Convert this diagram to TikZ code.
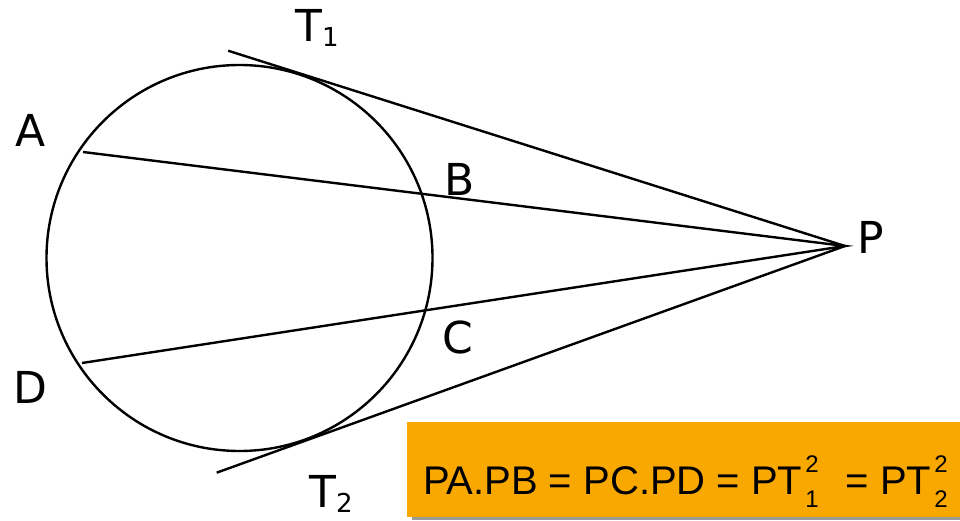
\documentclass[tikz,border=0pt]{standalone}
\usepackage{fontspec}
\setmainfont{DejaVu Sans}
\newfontfamily\eqfont{Liberation Sans}
\usetikzlibrary{calc,shadows}
\definecolor{keporange}{HTML}{F9A800}
\newcommand{\subsup}[2]{\hspace{3pt}\rlap{\raisebox{-13pt}{\fontsize{24}{24}\selectfont #1}}\raisebox{22pt}{\fontsize{24}{24}\selectfont #2}}
\tikzset{
  vonal/.style={line width=2.4pt},
  kor/.style={circle,draw,line width=2.4pt,minimum size=386pt,inner sep=0pt},
  betu/.style={anchor=base west,inner sep=0pt,font=\fontsize{44}{44}\selectfont},
  keplet/.style={fill=keporange,minimum width=553pt,minimum height=95pt,inner xsep=16pt,inner ysep=0pt,
                 text height=49pt,text depth=0pt,font=\eqfont\fontsize{40}{40}\selectfont,
                 drop shadow={shadow xshift=5pt,shadow yshift=-3pt,fill=black!40,opacity=1}},
}
\begin{document}
\begin{tikzpicture}[x=1pt,y=-1pt]
  \useasboundingbox (0,0) rectangle (960,521);
  \node[kor] (kor) at (239.5,258) {};
  \coordinate (P) at (845,246);
  \coordinate (A) at (83,152);
  \coordinate (D) at (82,363);
  \coordinate (t1) at (tangent cs:node=kor,point={(P)},solution=1);
  \coordinate (t2) at (tangent cs:node=kor,point={(P)},solution=2);
  \coordinate (v1) at ($(P)!647pt!(t1)$);
  \coordinate (v2) at ($(P)!668pt!(t2)$);
  \draw[vonal] (v1) -- (P) -- (v2);
  \draw[vonal] (A) -- (P) -- (D);
  % feliratok
  \node[betu] (T1) at (295,42) {T\raisebox{-5pt}{\fontsize{26}{26}\selectfont 1}};
  \node[betu] (lA) at (15,147) {A};
  \node[betu] (lB) at (444,196) {B};
  \node[betu] (lP) at (857,253) {P};
  \node[betu] (lC) at (442,353) {C};
  \node[betu] (lD) at (13,403) {D};
  \node[betu] (T2) at (309,507) {T\raisebox{-5pt}{\fontsize{26}{26}\selectfont 2}};
  \node[keplet] (eq) at (683.5,469.5) {\makebox[521pt][l]{PA.PB = PC.PD = PT\subsup{1}{2}\hspace{16pt} = PT\subsup{2}{2}}};
\end{tikzpicture}
\end{document}
